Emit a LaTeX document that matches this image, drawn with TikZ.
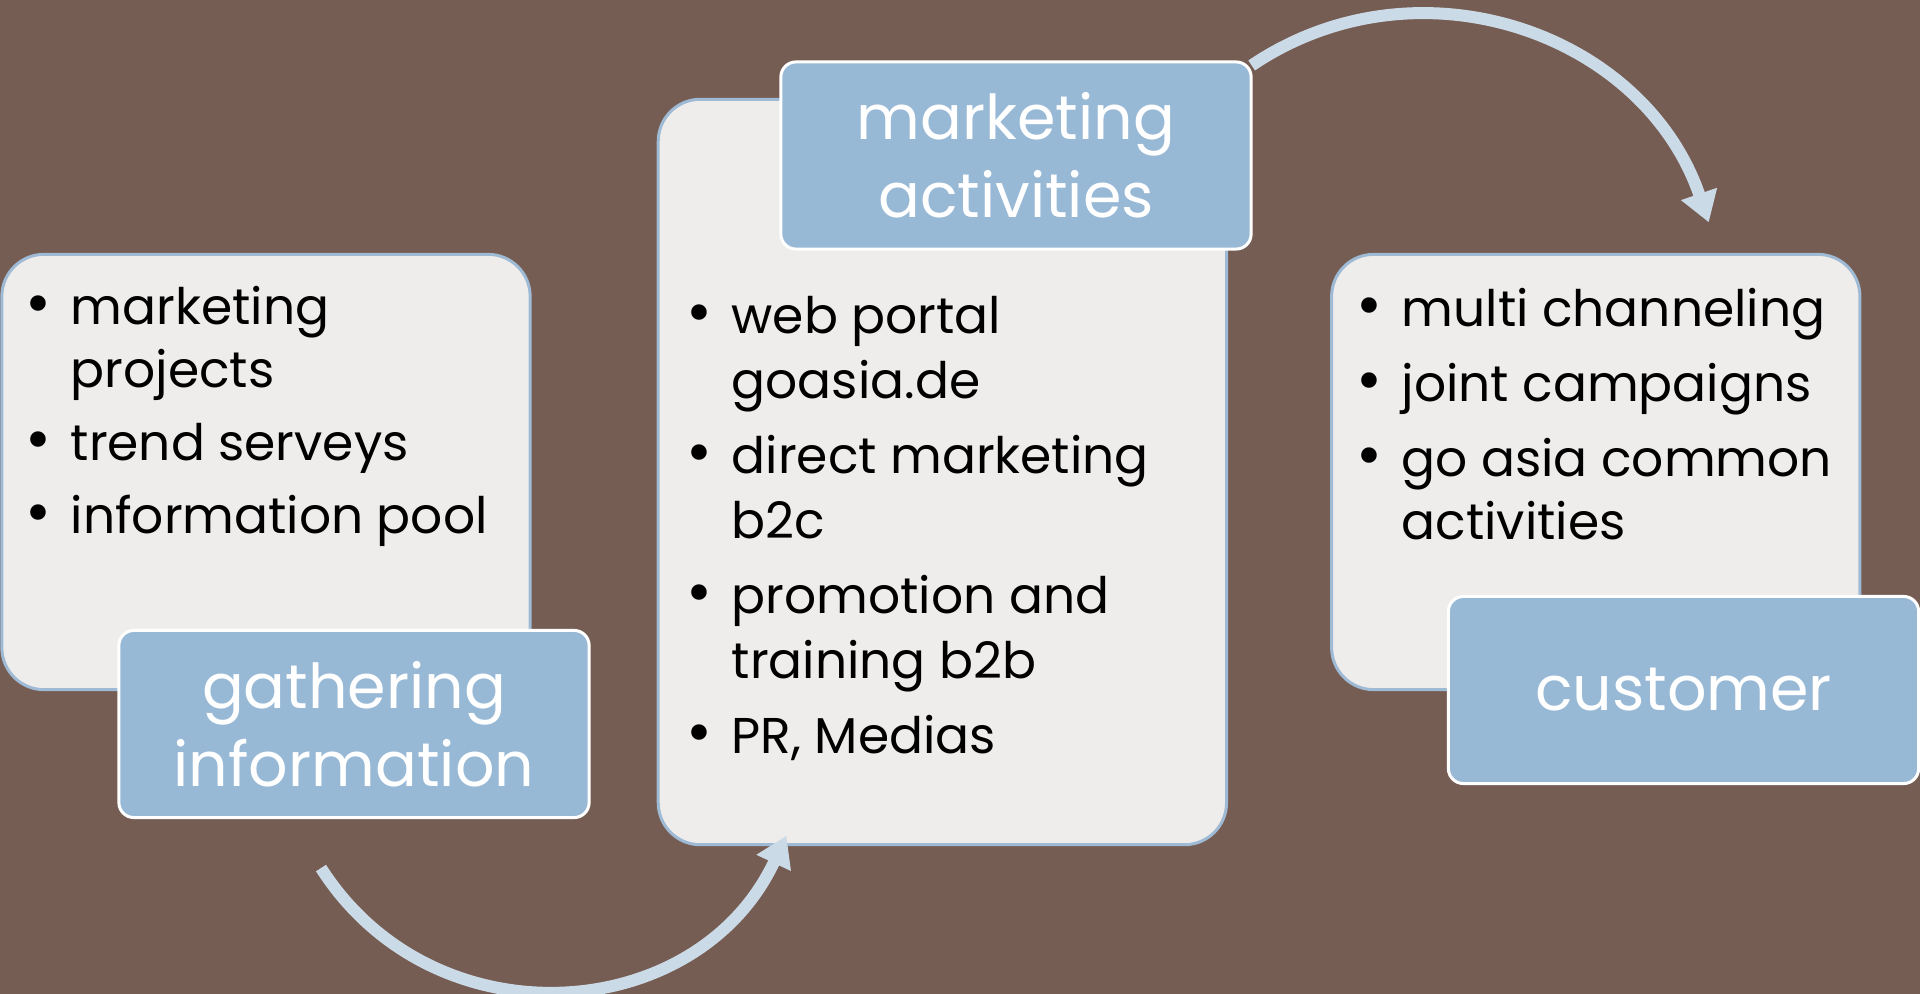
\documentclass[tikz,border=0pt]{standalone}
\usepackage{fontspec}
\usepackage{graphicx}
\setmainfont{Poppins}
\usetikzlibrary{positioning, arrows.meta}

\definecolor{bgbrown}{RGB}{118,93,83}
\definecolor{panelfill}{RGB}{239,237,235}
\definecolor{panelline}{RGB}{158,186,213}
\definecolor{tagfill}{RGB}{152,185,214}
\definecolor{flowblue}{RGB}{203,218,231}

\newcommand{\blt}{\makebox[0.45cm][l]{\scalebox{1.25}{\textbullet}}}
\newcommand{\ind}{\hspace*{0.45cm}}

\begin{document}
\begin{tikzpicture}[
    x=0.01cm, y=-0.01cm,
    panel/.style={
        draw=panelline,
        line width=0.03cm,
        fill=panelfill,
        rounded corners=0.42cm,
        outer sep=0pt,
        minimum width=5.28cm,
        minimum height=4.35cm
    },
    tag/.style={
        draw=white,
        line width=0.03cm,
        fill=tagfill,
        rounded corners=0.15cm,
        text=white,
        align=center,
        minimum width=4.7cm,
        minimum height=1.87cm,
        font=\fontsize{17.6pt}{22.2pt}\selectfont
    },
    list/.style={
        anchor=north west,
        align=left,
        inner sep=0pt,
        font=\fontsize{14.3pt}{17.9pt}\selectfont
    },
    flow/.style={draw=flowblue, line width=0.12cm, -{Triangle[length=0.3cm, width=0.36cm]}}
]
    \fill[bgbrown] (0,0) rectangle (1920,994);
    \useasboundingbox (0,0) rectangle (1920,994);

    \node[panel] (gatherbox) at (266,472) {};
    \node[panel, minimum width=5.68cm, minimum height=7.45cm] (marketbox) [right=1.28cm of gatherbox] {};
    \node[panel] (custbox) [right=1.05cm of marketbox] {};

    \node[list] (gatherlist) at (25,286) {\blt marketing\\ \ind projects\\[0.1cm]
        \blt trend serveys\\[0.1cm] \blt information pool};
    \node[list] (marketlist) at (686,296) {\blt web portal\\[0.02cm] \ind goasia.de\\[0.12cm]
        \blt direct marketing\\[0.02cm] \ind b2c\\[0.12cm] \blt promotion and\\[0.02cm] \ind training b2b\\[0.12cm]
        \blt PR, Medias};
    \node[list] (custlist) at (1356,288) {\blt multi channeling\\[0.12cm] \blt joint campaigns\\[0.12cm]
        \blt go asia common\\ \ind activities};

    \node[tag] (gatherlbl) at (354,724) {gathering\\information};
    \node[tag] (marketlbl) at (1016,155.5) {marketing\\activities};
    \node[tag] (custlbl) at (1683.5,690) {customer};

    \draw[flow] ([shift={(-33,49)}]gatherlbl.south) .. controls +(113,177) and +(-89,190) .. ([shift={(-156,-9)}]marketbox.south);
    \draw[flow] ([shift={(-1,5)}]marketlbl.north east) .. controls +(166,-112) and +(-65,-190) .. ([shift={(113,-32)}]custbox.north);
\end{tikzpicture}
\end{document}
